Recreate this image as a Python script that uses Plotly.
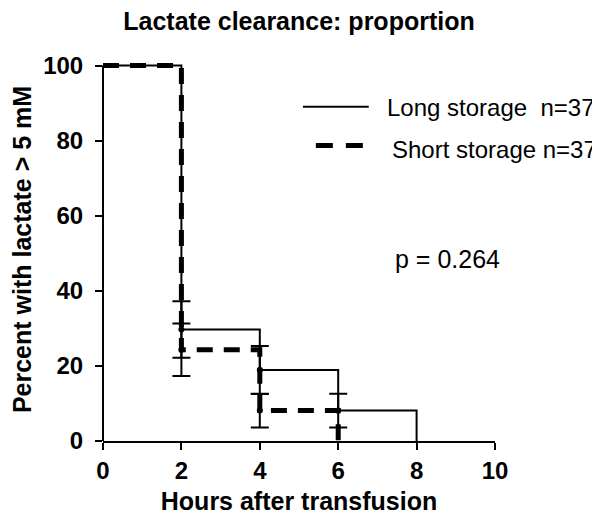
import plotly.graph_objects as go

# Kaplan-Meier style step curves (percent with lactate > 5 mM)
hours_long = [0, 2, 4, 6, 8]
pct_long = [100, 29.7, 18.9, 8.1, 0]
hours_short = [0, 2, 4, 6]
pct_short = [100, 24.3, 8.1, 0]

# standard-error bars at each step
err_hours_long = [2, 4, 6]
err_pct_long = [29.7, 18.9, 8.1]
err_long = [7.5, 6.4, 4.5]
err_hours_short = [2, 4]
err_pct_short = [24.3, 8.1]
err_short = [7.0, 4.5]

x_ticks = [0, 2, 4, 6, 8, 10]
y_ticks = [0, 20, 40, 60, 80, 100]

labels = ["Long storage\u00a0 n=37", "Short storage n=37"]
p_text = "p = 0.264"

_INK = "black"
_FONT = "Liberation Sans, Arial, Helvetica, sans-serif"

fig = go.Figure()

fig.add_trace(go.Scatter(
    x=hours_long, y=pct_long, mode="lines", line_shape="hv",
    line=dict(color=_INK, width=2), showlegend=False,
))
fig.add_trace(go.Scatter(
    x=hours_short, y=pct_short, mode="lines", line_shape="hv",
    line=dict(color=_INK, width=5, dash="16px,11px"), showlegend=False,
))
# error bars
fig.add_trace(go.Scatter(
    x=err_hours_long, y=err_pct_long, mode="markers",
    marker=dict(size=0, color=_INK), showlegend=False,
    error_y=dict(type="data", array=err_long, color=_INK, thickness=2, width=9),
))
fig.add_trace(go.Scatter(
    x=err_hours_short, y=err_pct_short, mode="markers",
    marker=dict(size=0, color=_INK), showlegend=False,
    error_y=dict(type="data", array=err_short, color=_INK, thickness=2, width=9),
))

# y axis line stops at 100
fig.add_shape(type="line", xref="paper", yref="y", x0=0, x1=0, y0=0, y1=100,
              line=dict(color=_INK, width=2), layer="above")

# hand-made legend
fig.add_shape(type="line", xref="x", yref="y", x0=5.1, x1=6.78, y0=89.0, y1=89.0,
              line=dict(color=_INK, width=2))
fig.add_shape(type="line", xref="x", yref="y", x0=5.43, x1=6.63, y0=78.7, y1=78.7,
              line=dict(color=_INK, width=5, dash="17px,13px"))
fig.add_annotation(x=7.2, y=88.7, xref="x", yref="y", text=labels[0],
                   showarrow=False, xanchor="left", yanchor="middle",
                   font=dict(family=_FONT, size=24, color=_INK))
fig.add_annotation(x=7.33, y=77.7, xref="x", yref="y", text=labels[1],
                   showarrow=False, xanchor="left", yanchor="middle",
                   font=dict(family=_FONT, size=24, color=_INK))
fig.add_annotation(x=1.017, y=48.6, xref="paper", yref="y", text=p_text,
                   showarrow=False, xanchor="right", yanchor="middle",
                   font=dict(family=_FONT, size=25, color=_INK))

fig.update_layout(
    width=600, height=515,
    paper_bgcolor="white", plot_bgcolor="white",
    margin=dict(l=93, r=113, t=50, b=75),
    font=dict(family=_FONT, color=_INK),
    title=dict(text="<b>Lactate clearance: proportion</b>", xref="paper", x=0.5,
               xanchor="center", y=0.975, yanchor="middle",
               font=dict(family=_FONT, size=25, color=_INK)),
    xaxis=dict(range=[0, 10], tickvals=x_ticks, showgrid=False, zeroline=False,
               showline=True, linecolor=_INK, linewidth=2,
               ticks="outside", ticklen=7, tickwidth=2, tickcolor=_INK,
               tickfont=dict(family=_FONT, size=24, color=_INK, weight="bold"),
               title=dict(text="<b>Hours after transfusion</b>", standoff=10,
                          font=dict(family=_FONT, size=25, color=_INK))),
    yaxis=dict(range=[0, 102], tickvals=y_ticks, showgrid=False, zeroline=False,
               showline=False, ticklabelstandoff=7,
               ticks="outside", ticklen=7, tickwidth=2, tickcolor=_INK,
               tickfont=dict(family=_FONT, size=24, color=_INK, weight="bold"),
               title=dict(text="<b>Percent with lactate > 5 mM</b>", standoff=6,
                          font=dict(family=_FONT, size=25, color=_INK))),
)

fig.write_html("out.html")
